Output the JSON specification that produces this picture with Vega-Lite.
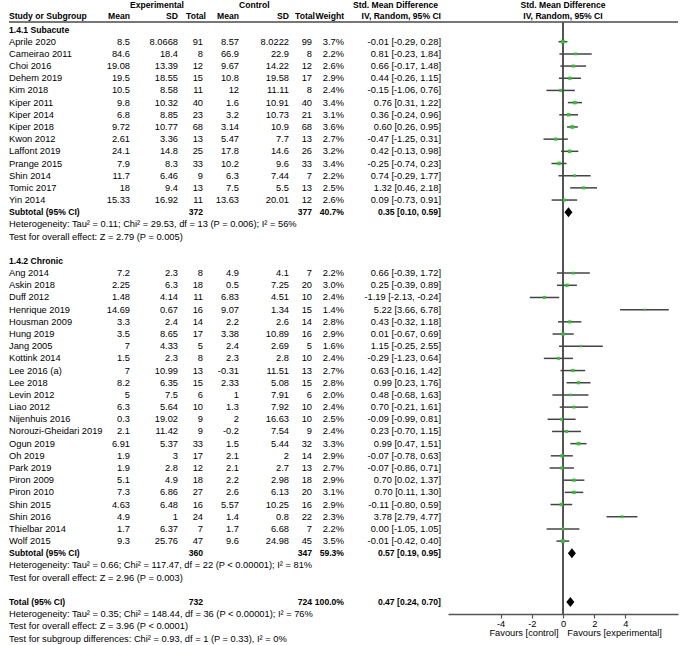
{
"$schema":"https://vega.github.io/schema/vega-lite/v6.json",
"padding":{"left":8,"top":0,"right":0,"bottom":0},
"spacing":0,
"bounds":"flush",
"config":{"view":{"stroke":null},"text":{"font":"Liberation Sans","fontSize":9.3,"color":"#000"},"axis":{"labelFont":"Liberation Sans"}},
"data":{"values":[
{"r":-2.04,"k":"grp","esd":"Experimental","csd":"Control","ci":"Std. Mean Difference"},
{"r":-1.13,"k":"colhead","s":"Study or Subgroup","em":"Mean","esd":"SD","en":"Total","cm":"Mean","csd":"SD","cn":"Total","w":"Weight","ci":"IV, Random, 95% CI"},
{"r":0,"k":"head","s":"1.4.1 Subacute"},
{"r":1,"k":"study","s":"Aprile 2020","em":"8.5","esd":"8.0668","en":"91","cm":"8.57","csd":"8.0222","cn":"99","w":"3.7%","ci":"-0.01 [-0.29, 0.28]","m":-0.01,"lo":-0.29,"hi":0.28,"wt":3.7},
{"r":2,"k":"study","s":"Cameirao 2011","em":"84.6","esd":"18.4","en":"8","cm":"66.9","csd":"22.9","cn":"8","w":"2.2%","ci":"0.81 [-0.23, 1.84]","m":0.81,"lo":-0.23,"hi":1.84,"wt":2.2},
{"r":3,"k":"study","s":"Choi 2016","em":"19.08","esd":"13.39","en":"12","cm":"9.67","csd":"14.22","cn":"12","w":"2.6%","ci":"0.66 [-0.17, 1.48]","m":0.66,"lo":-0.17,"hi":1.48,"wt":2.6},
{"r":4,"k":"study","s":"Dehem 2019","em":"19.5","esd":"18.55","en":"15","cm":"10.8","csd":"19.58","cn":"17","w":"2.9%","ci":"0.44 [-0.26, 1.15]","m":0.44,"lo":-0.26,"hi":1.15,"wt":2.9},
{"r":5,"k":"study","s":"Kim 2018","em":"10.5","esd":"8.58","en":"11","cm":"12","csd":"11.11","cn":"8","w":"2.4%","ci":"-0.15 [-1.06, 0.76]","m":-0.15,"lo":-1.06,"hi":0.76,"wt":2.4},
{"r":6,"k":"study","s":"Kiper 2011","em":"9.8","esd":"10.32","en":"40","cm":"1.6","csd":"10.91","cn":"40","w":"3.4%","ci":"0.76 [0.31, 1.22]","m":0.76,"lo":0.31,"hi":1.22,"wt":3.4},
{"r":7,"k":"study","s":"Kiper 2014","em":"6.8","esd":"8.85","en":"23","cm":"3.2","csd":"10.73","cn":"21","w":"3.1%","ci":"0.36 [-0.24, 0.96]","m":0.36,"lo":-0.24,"hi":0.96,"wt":3.1},
{"r":8,"k":"study","s":"Kiper 2018","em":"9.72","esd":"10.77","en":"68","cm":"3.14","csd":"10.9","cn":"68","w":"3.6%","ci":"0.60 [0.26, 0.95]","m":0.60,"lo":0.26,"hi":0.95,"wt":3.6},
{"r":9,"k":"study","s":"Kwon 2012","em":"2.61","esd":"3.36","en":"13","cm":"5.47","csd":"7.7","cn":"13","w":"2.7%","ci":"-0.47 [-1.25, 0.31]","m":-0.47,"lo":-1.25,"hi":0.31,"wt":2.7},
{"r":10,"k":"study","s":"Laffont 2019","em":"24.1","esd":"14.8","en":"25","cm":"17.8","csd":"14.6","cn":"26","w":"3.2%","ci":"0.42 [-0.13, 0.98]","m":0.42,"lo":-0.13,"hi":0.98,"wt":3.2},
{"r":11,"k":"study","s":"Prange 2015","em":"7.9","esd":"8.3","en":"33","cm":"10.2","csd":"9.6","cn":"33","w":"3.4%","ci":"-0.25 [-0.74, 0.23]","m":-0.25,"lo":-0.74,"hi":0.23,"wt":3.4},
{"r":12,"k":"study","s":"Shin 2014","em":"11.7","esd":"6.46","en":"9","cm":"6.3","csd":"7.44","cn":"7","w":"2.2%","ci":"0.74 [-0.29, 1.77]","m":0.74,"lo":-0.29,"hi":1.77,"wt":2.2},
{"r":13,"k":"study","s":"Tomic 2017","em":"18","esd":"9.4","en":"13","cm":"7.5","csd":"5.5","cn":"13","w":"2.5%","ci":"1.32 [0.46, 2.18]","m":1.32,"lo":0.46,"hi":2.18,"wt":2.5},
{"r":14,"k":"study","s":"Yin 2014","em":"15.33","esd":"16.92","en":"11","cm":"13.63","csd":"20.01","cn":"12","w":"2.6%","ci":"0.09 [-0.73, 0.91]","m":0.09,"lo":-0.73,"hi":0.91,"wt":2.6},
{"r":15,"k":"sub","s":"Subtotal (95% CI)","en":"372","cn":"377","w":"40.7%","ci":"0.35 [0.10, 0.59]","m":0.35,"lo":0.10,"hi":0.59},
{"r":16,"k":"note","s":"Heterogeneity: Tau² = 0.11; Chi² = 29.53, df = 13 (P = 0.006); I² = 56%"},
{"r":17,"k":"note","s":"Test for overall effect: Z = 2.79 (P = 0.005)"},
{"r":19,"k":"head","s":"1.4.2 Chronic"},
{"r":20,"k":"study","s":"Ang 2014","em":"7.2","esd":"2.3","en":"8","cm":"4.9","csd":"4.1","cn":"7","w":"2.2%","ci":"0.66 [-0.39, 1.72]","m":0.66,"lo":-0.39,"hi":1.72,"wt":2.2},
{"r":21,"k":"study","s":"Askin 2018","em":"2.25","esd":"6.3","en":"18","cm":"0.5","csd":"7.25","cn":"20","w":"3.0%","ci":"0.25 [-0.39, 0.89]","m":0.25,"lo":-0.39,"hi":0.89,"wt":3.0},
{"r":22,"k":"study","s":"Duff 2012","em":"1.48","esd":"4.14","en":"11","cm":"6.83","csd":"4.51","cn":"10","w":"2.4%","ci":"-1.19 [-2.13, -0.24]","m":-1.19,"lo":-2.13,"hi":-0.24,"wt":2.4},
{"r":23,"k":"study","s":"Henrique 2019","em":"14.69","esd":"0.67","en":"16","cm":"9.07","csd":"1.34","cn":"15","w":"1.4%","ci":"5.22 [3.66, 6.78]","m":5.22,"lo":3.66,"hi":6.78,"wt":1.4},
{"r":24,"k":"study","s":"Housman 2009","em":"3.3","esd":"2.4","en":"14","cm":"2.2","csd":"2.6","cn":"14","w":"2.8%","ci":"0.43 [-0.32, 1.18]","m":0.43,"lo":-0.32,"hi":1.18,"wt":2.8},
{"r":25,"k":"study","s":"Hung 2019","em":"3.5","esd":"8.65","en":"17","cm":"3.38","csd":"10.89","cn":"16","w":"2.9%","ci":"0.01 [-0.67, 0.69]","m":0.01,"lo":-0.67,"hi":0.69,"wt":2.9},
{"r":26,"k":"study","s":"Jang 2005","em":"7","esd":"4.33","en":"5","cm":"2.4","csd":"2.69","cn":"5","w":"1.6%","ci":"1.15 [-0.25, 2.55]","m":1.15,"lo":-0.25,"hi":2.55,"wt":1.6},
{"r":27,"k":"study","s":"Kottink 2014","em":"1.5","esd":"2.3","en":"8","cm":"2.3","csd":"2.8","cn":"10","w":"2.4%","ci":"-0.29 [-1.23, 0.64]","m":-0.29,"lo":-1.23,"hi":0.64,"wt":2.4},
{"r":28,"k":"study","s":"Lee 2016 (a)","em":"7","esd":"10.99","en":"13","cm":"-0.31","csd":"11.51","cn":"13","w":"2.7%","ci":"0.63 [-0.16, 1.42]","m":0.63,"lo":-0.16,"hi":1.42,"wt":2.7},
{"r":29,"k":"study","s":"Lee 2018","em":"8.2","esd":"6.35","en":"15","cm":"2.33","csd":"5.08","cn":"15","w":"2.8%","ci":"0.99 [0.23, 1.76]","m":0.99,"lo":0.23,"hi":1.76,"wt":2.8},
{"r":30,"k":"study","s":"Levin 2012","em":"5","esd":"7.5","en":"6","cm":"1","csd":"7.91","cn":"6","w":"2.0%","ci":"0.48 [-0.68, 1.63]","m":0.48,"lo":-0.68,"hi":1.63,"wt":2.0},
{"r":31,"k":"study","s":"Liao 2012","em":"6.3","esd":"5.64","en":"10","cm":"1.3","csd":"7.92","cn":"10","w":"2.4%","ci":"0.70 [-0.21, 1.61]","m":0.70,"lo":-0.21,"hi":1.61,"wt":2.4},
{"r":32,"k":"study","s":"Nijenhuis 2016","em":"0.3","esd":"19.02","en":"9","cm":"2","csd":"16.63","cn":"10","w":"2.5%","ci":"-0.09 [-0.99, 0.81]","m":-0.09,"lo":-0.99,"hi":0.81,"wt":2.5},
{"r":33,"k":"study","s":"Norouzi-Gheidari 2019","em":"2.1","esd":"11.42","en":"9","cm":"-0.2","csd":"7.54","cn":"9","w":"2.4%","ci":"0.23 [-0.70, 1.15]","m":0.23,"lo":-0.70,"hi":1.15,"wt":2.4},
{"r":34,"k":"study","s":"Ogun 2019","em":"6.91","esd":"5.37","en":"33","cm":"1.5","csd":"5.44","cn":"32","w":"3.3%","ci":"0.99 [0.47, 1.51]","m":0.99,"lo":0.47,"hi":1.51,"wt":3.3},
{"r":35,"k":"study","s":"Oh 2019","em":"1.9","esd":"3","en":"17","cm":"2.1","csd":"2","cn":"14","w":"2.9%","ci":"-0.07 [-0.78, 0.63]","m":-0.07,"lo":-0.78,"hi":0.63,"wt":2.9},
{"r":36,"k":"study","s":"Park 2019","em":"1.9","esd":"2.8","en":"12","cm":"2.1","csd":"2.7","cn":"13","w":"2.7%","ci":"-0.07 [-0.86, 0.71]","m":-0.07,"lo":-0.86,"hi":0.71,"wt":2.7},
{"r":37,"k":"study","s":"Piron 2009","em":"5.1","esd":"4.9","en":"18","cm":"2.2","csd":"2.98","cn":"18","w":"2.9%","ci":"0.70 [0.02, 1.37]","m":0.70,"lo":0.02,"hi":1.37,"wt":2.9},
{"r":38,"k":"study","s":"Piron 2010","em":"7.3","esd":"6.86","en":"27","cm":"2.6","csd":"6.13","cn":"20","w":"3.1%","ci":"0.70 [0.11, 1.30]","m":0.70,"lo":0.11,"hi":1.30,"wt":3.1},
{"r":39,"k":"study","s":"Shin 2015","em":"4.63","esd":"6.48","en":"16","cm":"5.57","csd":"10.25","cn":"16","w":"2.9%","ci":"-0.11 [-0.80, 0.59]","m":-0.11,"lo":-0.80,"hi":0.59,"wt":2.9},
{"r":40,"k":"study","s":"Shin 2016","em":"4.9","esd":"1","en":"24","cm":"1.4","csd":"0.8","cn":"22","w":"2.3%","ci":"3.78 [2.79, 4.77]","m":3.78,"lo":2.79,"hi":4.77,"wt":2.3},
{"r":41,"k":"study","s":"Thielbar 2014","em":"1.7","esd":"6.37","en":"7","cm":"1.7","csd":"6.68","cn":"7","w":"2.2%","ci":"0.00 [-1.05, 1.05]","m":0.00,"lo":-1.05,"hi":1.05,"wt":2.2},
{"r":42,"k":"study","s":"Wolf 2015","em":"9.3","esd":"25.76","en":"47","cm":"9.6","csd":"24.98","cn":"45","w":"3.5%","ci":"-0.01 [-0.42, 0.40]","m":-0.01,"lo":-0.42,"hi":0.40,"wt":3.5},
{"r":43,"k":"sub","s":"Subtotal (95% CI)","en":"360","cn":"347","w":"59.3%","ci":"0.57 [0.19, 0.95]","m":0.57,"lo":0.19,"hi":0.95},
{"r":44,"k":"note","s":"Heterogeneity: Tau² = 0.66; Chi² = 117.47, df = 22 (P < 0.00001); I² = 81%"},
{"r":45,"k":"note","s":"Test for overall effect: Z = 2.96 (P = 0.003)"},
{"r":47,"k":"sub","s":"Total (95% CI)","en":"732","cn":"724","w":"100.0%","ci":"0.47 [0.24, 0.70]","m":0.47,"lo":0.24,"hi":0.70},
{"r":48,"k":"note","s":"Heterogeneity: Tau² = 0.35; Chi² = 148.44, df = 36 (P < 0.00001); I² = 76%"},
{"r":49,"k":"note","s":"Test for overall effect: Z = 3.96 (P < 0.0001)"},
{"r":50,"k":"note","s":"Test for subgroup differences: Chi² = 0.93, df = 1 (P = 0.33), I² = 0%"}
]},
"hconcat":[
{"width":87,"height":645,"layer":[
 {"mark":{"type":"rule","color":"#777","strokeWidth":1.5},"encoding":{"y":{"datum":-0.62,"type":"quantitative","scale":{"domain":[-2.424,50.532],"reverse":true,"nice":false,"zero":false},"axis":null}}},
 {"transform":[{"filter":"datum.k=='study'||datum.k=='note'"}],"mark":{"type":"text","align":"left"},"encoding":{"x":{"value":0},"y":{"field":"r","type":"quantitative","scale":{"domain":[-2.424,50.532],"reverse":true,"nice":false,"zero":false},"axis":null},"text":{"field":"s"}}},
 {"transform":[{"filter":"datum.k=='colhead'||datum.k=='head'||datum.k=='sub'"}],"mark":{"type":"text","align":"left","fontWeight":"bold","fontSize":8.6},"encoding":{"x":{"value":0},"y":{"field":"r","type":"quantitative","scale":{"domain":[-2.424,50.532],"reverse":true,"nice":false,"zero":false},"axis":null},"text":{"field":"s"}}}
]},
{"width":34,"height":645,"layer":[
 {"mark":{"type":"rule","color":"#777","strokeWidth":1.5},"encoding":{"y":{"datum":-0.62,"type":"quantitative","scale":{"domain":[-2.424,50.532],"reverse":true,"nice":false,"zero":false},"axis":null}}},
 {"transform":[{"filter":"datum.k=='study'"}],"mark":{"type":"text","align":"right"},"encoding":{"x":{"value":"width"},"y":{"field":"r","type":"quantitative","scale":{"domain":[-2.424,50.532],"reverse":true,"nice":false,"zero":false},"axis":null},"text":{"field":"em"}}},
 {"transform":[{"filter":"datum.k=='colhead'"}],"mark":{"type":"text","align":"right","fontWeight":"bold","fontSize":8.6},"encoding":{"x":{"value":"width"},"y":{"field":"r","type":"quantitative","scale":{"domain":[-2.424,50.532],"reverse":true,"nice":false,"zero":false},"axis":null},"text":{"field":"em"}}}
]},
{"width":48,"height":645,"layer":[
 {"mark":{"type":"rule","color":"#777","strokeWidth":1.5},"encoding":{"y":{"datum":-0.62,"type":"quantitative","scale":{"domain":[-2.424,50.532],"reverse":true,"nice":false,"zero":false},"axis":null}}},
 {"transform":[{"filter":"datum.k=='study'"}],"mark":{"type":"text","align":"right"},"encoding":{"x":{"value":"width"},"y":{"field":"r","type":"quantitative","scale":{"domain":[-2.424,50.532],"reverse":true,"nice":false,"zero":false},"axis":null},"text":{"field":"esd"}}},
 {"transform":[{"filter":"datum.k=='colhead'"}],"mark":{"type":"text","align":"right","fontWeight":"bold","fontSize":8.6},"encoding":{"x":{"value":"width"},"y":{"field":"r","type":"quantitative","scale":{"domain":[-2.424,50.532],"reverse":true,"nice":false,"zero":false},"axis":null},"text":{"field":"esd"}}},
 {"transform":[{"filter":"datum.k=='grp'"}],"mark":{"type":"text","align":"left","fontWeight":"bold","fontSize":8.6},"encoding":{"x":{"value":0},"y":{"field":"r","type":"quantitative","scale":{"domain":[-2.424,50.532],"reverse":true,"nice":false,"zero":false},"axis":null},"text":{"field":"esd"}}}
]},
{"width":25,"height":645,"layer":[
 {"mark":{"type":"rule","color":"#777","strokeWidth":1.5},"encoding":{"y":{"datum":-0.62,"type":"quantitative","scale":{"domain":[-2.424,50.532],"reverse":true,"nice":false,"zero":false},"axis":null}}},
 {"transform":[{"filter":"datum.k=='study'"}],"mark":{"type":"text","align":"right"},"encoding":{"x":{"value":"width"},"y":{"field":"r","type":"quantitative","scale":{"domain":[-2.424,50.532],"reverse":true,"nice":false,"zero":false},"axis":null},"text":{"field":"en"}}},
 {"transform":[{"filter":"datum.k=='sub'"}],"mark":{"type":"text","align":"right","fontWeight":"bold","fontSize":8.6},"encoding":{"x":{"value":"width"},"y":{"field":"r","type":"quantitative","scale":{"domain":[-2.424,50.532],"reverse":true,"nice":false,"zero":false},"axis":null},"text":{"field":"en"}}},
 {"transform":[{"filter":"datum.k=='colhead'"}],"mark":{"type":"text","align":"right","fontWeight":"bold","fontSize":8.6,"dx":3},"encoding":{"x":{"value":"width"},"y":{"field":"r","type":"quantitative","scale":{"domain":[-2.424,50.532],"reverse":true,"nice":false,"zero":false},"axis":null},"text":{"field":"en"}}}
]},
{"width":36,"height":645,"layer":[
 {"mark":{"type":"rule","color":"#777","strokeWidth":1.5},"encoding":{"y":{"datum":-0.62,"type":"quantitative","scale":{"domain":[-2.424,50.532],"reverse":true,"nice":false,"zero":false},"axis":null}}},
 {"transform":[{"filter":"datum.k=='study'"}],"mark":{"type":"text","align":"right"},"encoding":{"x":{"value":"width"},"y":{"field":"r","type":"quantitative","scale":{"domain":[-2.424,50.532],"reverse":true,"nice":false,"zero":false},"axis":null},"text":{"field":"cm"}}},
 {"transform":[{"filter":"datum.k=='colhead'"}],"mark":{"type":"text","align":"right","fontWeight":"bold","fontSize":8.6},"encoding":{"x":{"value":"width"},"y":{"field":"r","type":"quantitative","scale":{"domain":[-2.424,50.532],"reverse":true,"nice":false,"zero":false},"axis":null},"text":{"field":"cm"}}}
]},
{"width":50,"height":645,"layer":[
 {"mark":{"type":"rule","color":"#777","strokeWidth":1.5},"encoding":{"y":{"datum":-0.62,"type":"quantitative","scale":{"domain":[-2.424,50.532],"reverse":true,"nice":false,"zero":false},"axis":null}}},
 {"transform":[{"filter":"datum.k=='study'"}],"mark":{"type":"text","align":"right"},"encoding":{"x":{"value":"width"},"y":{"field":"r","type":"quantitative","scale":{"domain":[-2.424,50.532],"reverse":true,"nice":false,"zero":false},"axis":null},"text":{"field":"csd"}}},
 {"transform":[{"filter":"datum.k=='colhead'"}],"mark":{"type":"text","align":"right","fontWeight":"bold","fontSize":8.6},"encoding":{"x":{"value":"width"},"y":{"field":"r","type":"quantitative","scale":{"domain":[-2.424,50.532],"reverse":true,"nice":false,"zero":false},"axis":null},"text":{"field":"csd"}}},
 {"transform":[{"filter":"datum.k=='grp'"}],"mark":{"type":"text","align":"left","fontWeight":"bold","fontSize":8.6},"encoding":{"x":{"value":0},"y":{"field":"r","type":"quantitative","scale":{"domain":[-2.424,50.532],"reverse":true,"nice":false,"zero":false},"axis":null},"text":{"field":"csd"}}}
]},
{"width":23,"height":645,"layer":[
 {"mark":{"type":"rule","color":"#777","strokeWidth":1.5},"encoding":{"y":{"datum":-0.62,"type":"quantitative","scale":{"domain":[-2.424,50.532],"reverse":true,"nice":false,"zero":false},"axis":null}}},
 {"transform":[{"filter":"datum.k=='study'"}],"mark":{"type":"text","align":"right"},"encoding":{"x":{"value":"width"},"y":{"field":"r","type":"quantitative","scale":{"domain":[-2.424,50.532],"reverse":true,"nice":false,"zero":false},"axis":null},"text":{"field":"cn"}}},
 {"transform":[{"filter":"datum.k=='sub'"}],"mark":{"type":"text","align":"right","fontWeight":"bold","fontSize":8.6},"encoding":{"x":{"value":"width"},"y":{"field":"r","type":"quantitative","scale":{"domain":[-2.424,50.532],"reverse":true,"nice":false,"zero":false},"axis":null},"text":{"field":"cn"}}},
 {"transform":[{"filter":"datum.k=='colhead'"}],"mark":{"type":"text","align":"right","fontWeight":"bold","fontSize":8.6,"dx":3},"encoding":{"x":{"value":"width"},"y":{"field":"r","type":"quantitative","scale":{"domain":[-2.424,50.532],"reverse":true,"nice":false,"zero":false},"axis":null},"text":{"field":"cn"}}}
]},
{"width":32,"height":645,"layer":[
 {"mark":{"type":"rule","color":"#777","strokeWidth":1.5},"encoding":{"y":{"datum":-0.62,"type":"quantitative","scale":{"domain":[-2.424,50.532],"reverse":true,"nice":false,"zero":false},"axis":null}}},
 {"transform":[{"filter":"datum.k=='study'"}],"mark":{"type":"text","align":"right"},"encoding":{"x":{"value":"width"},"y":{"field":"r","type":"quantitative","scale":{"domain":[-2.424,50.532],"reverse":true,"nice":false,"zero":false},"axis":null},"text":{"field":"w"}}},
 {"transform":[{"filter":"datum.k=='colhead'||datum.k=='sub'"}],"mark":{"type":"text","align":"right","fontWeight":"bold","fontSize":8.6},"encoding":{"x":{"value":"width"},"y":{"field":"r","type":"quantitative","scale":{"domain":[-2.424,50.532],"reverse":true,"nice":false,"zero":false},"axis":null},"text":{"field":"w"}}}
]},
{"width":104,"height":645,"layer":[
 {"mark":{"type":"rule","color":"#777","strokeWidth":1.5},"encoding":{"y":{"datum":-0.62,"type":"quantitative","scale":{"domain":[-2.424,50.532],"reverse":true,"nice":false,"zero":false},"axis":null}}},
 {"transform":[{"filter":"datum.k=='study'"}],"mark":{"type":"text","align":"right","dx":-7},"encoding":{"x":{"value":"width"},"y":{"field":"r","type":"quantitative","scale":{"domain":[-2.424,50.532],"reverse":true,"nice":false,"zero":false},"axis":null},"text":{"field":"ci"}}},
 {"transform":[{"filter":"datum.k=='colhead'||datum.k=='sub'"}],"mark":{"type":"text","align":"right","fontWeight":"bold","fontSize":8.6,"dx":-7},"encoding":{"x":{"value":"width"},"y":{"field":"r","type":"quantitative","scale":{"domain":[-2.424,50.532],"reverse":true,"nice":false,"zero":false},"axis":null},"text":{"field":"ci"}}},
 {"transform":[{"filter":"datum.k=='grp'"}],"mark":{"type":"text","align":"right","fontWeight":"bold","fontSize":8.6,"dx":-10},"encoding":{"x":{"value":"width"},"y":{"field":"r","type":"quantitative","scale":{"domain":[-2.424,50.532],"reverse":true,"nice":false,"zero":false},"axis":null},"text":{"field":"ci"}}}
]},
{"width":230,"height":645,"layer":[
 {"mark":{"type":"rule","color":"#777","strokeWidth":1.5},"encoding":{"y":{"datum":-0.62,"type":"quantitative","scale":{"domain":[-2.424,50.532],"reverse":true,"nice":false,"zero":false},"axis":null}}},
 {"mark":{"type":"rule","color":"#555","strokeWidth":1.2},"encoding":{"x":{"datum":0,"type":"quantitative","scale":{"domain":[-7.37,7.37],"nice":false,"zero":false},"axis":{"values":[-4,-2,0,2,4],"labelExpr":"replace(datum.label, '\u2212', '-')","offset":-31,"tickSize":4,"labelPadding":1,"title":null,"grid":false,"domainColor":"#555","domainWidth":1.3,"tickColor":"#555","tickWidth":1.2,"labelColor":"#000","labelFontSize":9.3}},"y":{"datum":-0.62,"type":"quantitative","scale":{"domain":[-2.424,50.532],"reverse":true,"nice":false,"zero":false},"axis":null},"y2":{"datum":47.99}}},
 {"transform":[{"filter":"datum.k=='study'"}],"mark":{"type":"rule","color":"#444","strokeWidth":1.5},"encoding":{"x":{"field":"lo","type":"quantitative","scale":{"domain":[-7.37,7.37],"nice":false,"zero":false}},"x2":{"field":"hi"},"y":{"field":"r","type":"quantitative","scale":{"domain":[-2.424,50.532],"reverse":true,"nice":false,"zero":false},"axis":null}}},
 {"transform":[{"filter":"datum.k=='study'"}],"mark":{"type":"point","shape":"square","filled":true,"color":"#22cc22","opacity":1},"encoding":{"x":{"field":"m","type":"quantitative","scale":{"domain":[-7.37,7.37],"nice":false,"zero":false}},"y":{"field":"r","type":"quantitative","scale":{"domain":[-2.424,50.532],"reverse":true,"nice":false,"zero":false},"axis":null},"size":{"field":"wt","type":"quantitative","scale":{"domain":[1.4,3.7],"range":[4,14]},"legend":null}}},
 {"transform":[{"filter":"datum.k=='sub'"}],"mark":{"type":"point","shape":"M-0.8,0L0,-1L0.8,0L0,1Z","filled":true,"color":"#000","opacity":1,"size":100},"encoding":{"x":{"field":"m","type":"quantitative","scale":{"domain":[-7.37,7.37],"nice":false,"zero":false}},"y":{"field":"r","type":"quantitative","scale":{"domain":[-2.424,50.532],"reverse":true,"nice":false,"zero":false},"axis":null}}},
 {"transform":[{"filter":"datum.k=='grp'||datum.k=='colhead'"}],"mark":{"type":"text","align":"center","fontWeight":"bold","fontSize":8.6},"encoding":{"x":{"datum":0,"type":"quantitative","scale":{"domain":[-7.37,7.37],"nice":false,"zero":false}},"y":{"field":"r","type":"quantitative","scale":{"domain":[-2.424,50.532],"reverse":true,"nice":false,"zero":false},"axis":null},"text":{"field":"ci"}}},
 {"data":{"values":[{"t":"Favours [control]"}]},"mark":{"type":"text","align":"right"},"encoding":{"x":{"datum":-0.28,"type":"quantitative","scale":{"domain":[-7.37,7.37],"nice":false,"zero":false}},"y":{"datum":49.52,"type":"quantitative","scale":{"domain":[-2.424,50.532],"reverse":true,"nice":false,"zero":false},"axis":null},"text":{"field":"t"}}},
 {"data":{"values":[{"t":"Favours [experimental]"}]},"mark":{"type":"text","align":"left"},"encoding":{"x":{"datum":0.28,"type":"quantitative","scale":{"domain":[-7.37,7.37],"nice":false,"zero":false}},"y":{"datum":49.52,"type":"quantitative","scale":{"domain":[-2.424,50.532],"reverse":true,"nice":false,"zero":false},"axis":null},"text":{"field":"t"}}}
]}
]
}
